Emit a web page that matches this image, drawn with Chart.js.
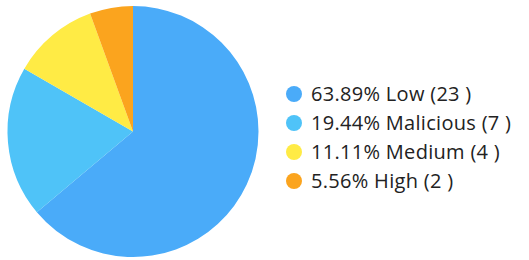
<!DOCTYPE html>
<html>
<head>
<meta charset="utf-8">
<script src="https://cdn.jsdelivr.net/npm/chart.js@4"></script>
<style>
  body { margin: 0; background: #fff; width: 529px; height: 260px; overflow: hidden; position: relative; font-family: "Open Sans", sans-serif; }
  #wrap { position: absolute; left: 0; top: 0; width: 266px; height: 263px; }
  #legend { position: absolute; left: 285px; top: 79px; }
  .row { height: 29px; display: flex; align-items: center; font-size: 20px; letter-spacing: 0.3px; color: #222; white-space: nowrap; }
  .dot { width: 16px; height: 16px; border-radius: 50%; margin-right: 9px; margin-left: 1px; flex: none; }
</style>
</head>
<body>
<div id="wrap"><canvas id="chart-container"></canvas></div>
<div id="legend"></div>
<script>
var categorias = ['Low', 'Malicious', 'Medium', 'High'];
var cantidades = [23, 7, 4, 2];
var colores = ['#4aabf9', '#4fc3f8', '#ffeb45', '#fba41e'];

var total = cantidades.reduce((a, b) => a + b, 0);

// leyenda en html, a partir de los mismos arreglos
var legend = document.getElementById('legend');
categorias.forEach(function (cat, i) {
    var pct = (cantidades[i] / total * 100).toFixed(2);
    var row = document.createElement('div');
    row.className = 'row';
    row.innerHTML = '<span class="dot" style="background:' + colores[i] + '"></span>' +
        pct + '% ' + cat + ' (' + cantidades[i] + ' )';
    legend.appendChild(row);
});

var ctx = document.getElementById('chart-container').getContext('2d');
var chart = new Chart(ctx, {
    type: 'pie',
    data: {
        labels: categorias,
        datasets: [{
            data: cantidades,
            backgroundColor: colores,
            borderWidth: 0
        }]
    },
    options: {
        responsive: true,
        maintainAspectRatio: false,
        animation: false,
        layout: { padding: { top: 6, bottom: 6, left: 7, right: 7 } },
        plugins: {
            legend: { display: false },
            tooltip: { enabled: false }
        }
    }
});
</script>
</body>
</html>
